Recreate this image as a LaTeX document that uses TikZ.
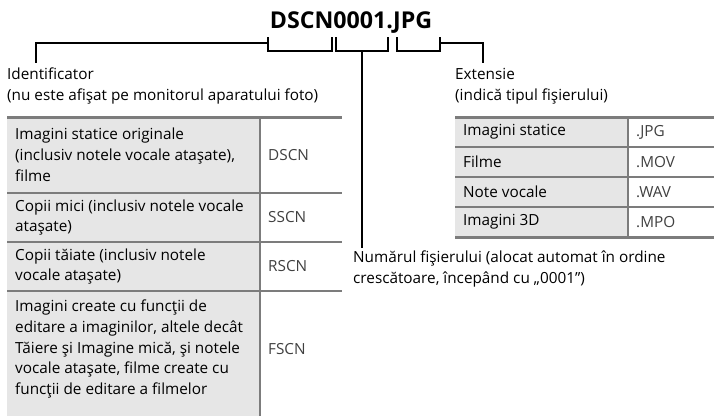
\documentclass[tikz,border=0pt]{standalone}
\usepackage{fontspec}
\setmainfont{Open Sans}
\definecolor{cellgray}{HTML}{E6E6E6}
\definecolor{rulegray}{HTML}{7C7C7C}
\begin{document}
\begin{tikzpicture}[x=1pt,y=-1pt,
  txt/.style={font=\fontsize{15.3}{20.8}\selectfont, inner sep=0pt, align=left},
  code/.style={txt, text=black!75},
  brk/.style={line width=2pt, line cap=rect},
  rule/.style={draw=rulegray, line width=2.4pt},
  toprule/.style={draw=rulegray, line width=3pt}]
\useasboundingbox (0,0) rectangle (714,416);

% title
\node[font=\fontsize{23.2}{26}\selectfont\bfseries, inner sep=0pt, anchor=base] (title) at (351,28) {DSCN0001.JPG};

% bracket coordinates
\coordinate (dA) at (268,38); \coordinate (dB) at (268,51); \coordinate (dC) at (332,51); \coordinate (dD) at (332,38);
\coordinate (nA) at (336,38); \coordinate (nB) at (336,51); \coordinate (nC) at (388,51); \coordinate (nD) at (388,38);
\coordinate (jA) at (397,38); \coordinate (jB) at (397,51); \coordinate (jC) at (440,51); \coordinate (jD) at (440,38);
\coordinate (dL) at (268,43); \coordinate (jR) at (440,43);
\coordinate (nM) at (362,51); \coordinate (nEnd) at (362,247);
\coordinate (idTop) at (36,43); \coordinate (idEnd) at (36,62);
\coordinate (exTop) at (483,43); \coordinate (exEnd) at (483,62);

\draw[brk] (dA) -- (dB) -- (dC) -- (dD);
\draw[brk] (nA) -- (nB) -- (nC) -- (nD);
\draw[brk] (jA) -- (jB) -- (jC) -- (jD);
\draw[brk] (idEnd) -- (idTop) -- (dL);
\draw[brk] (jR) -- (exTop) -- (exEnd);
\draw[brk] (nM) -- (nEnd);

% labels
\node[txt, anchor=base west] (id1) at (7,79) {Identificator};
\node[txt, anchor=base west] (id2) at (7,100) {(nu este afişat pe monitorul aparatului foto)};
\node[txt, anchor=base west] (ex1) at (455,79) {Extensie};
\node[txt, anchor=base west] (ex2) at (455,100) {(indică tipul fişierului)};
\node[txt, anchor=base west] (num1) at (353,262) {Numărul fişierului (alocat automat în ordine};
\node[txt, anchor=base west] (num2) at (353,283) {crescătoare, începând cu „0001”)};

% left table
\fill[cellgray] (7,117) rectangle (260,416);
\draw[toprule] (7,117) -- (342,117);
\draw[rule] (7,193) -- (342,193);
\draw[rule] (7,242) -- (342,242);
\draw[rule] (7,291) -- (342,291);
\draw[rule] (260,117) -- (260,416);

\node[txt, anchor=west] (l1) at (15,155) {Imagini statice originale\\(inclusiv notele vocale ataşate),\\filme};
\node[code, anchor=west] (c1) at (268,155) {DSCN};
\node[txt, anchor=west] (l2) at (15,217.5) {Copii mici (inclusiv notele vocale\\ataşate)};
\node[code, anchor=west] (c2) at (268,217.5) {SSCN};
\node[txt, anchor=west] (l3) at (15,266.5) {Copii tăiate (inclusiv notele\\vocale ataşate)};
\node[code, anchor=west] (c3) at (268,266.5) {RSCN};
\node[txt, anchor=west] (l4) at (15,349) {Imagini create cu funcţii de\\editare a imaginilor, altele decât\\Tăiere şi Imagine mică, şi notele\\vocale ataşate, filme create cu\\funcţii de editare a filmelor};
\node[code, anchor=west] (c4) at (268,349) {FSCN};

% right table
\fill[cellgray] (455,117) rectangle (628,237);
\draw[toprule] (455,117) -- (714,117);
\draw[rule] (455,147) -- (714,147);
\draw[rule] (455,177) -- (714,177);
\draw[rule] (455,207) -- (714,207);
\draw[toprule] (455,237) -- (714,237);
\draw[rule] (628,117) -- (628,237);

\node[txt, anchor=west] (r1) at (463,132) {Imagini statice};
\node[code, anchor=west] (e1) at (636,132) {.JPG};
\node[txt, anchor=west] (r2) at (463,162) {Filme};
\node[code, anchor=west] (e2) at (636,162) {.MOV};
\node[txt, anchor=west] (r3) at (463,192) {Note vocale};
\node[code, anchor=west] (e3) at (636,192) {.WAV};
\node[txt, anchor=west] (r4) at (463,222) {Imagini 3D};
\node[code, anchor=west] (e4) at (636,222) {.MPO};
\end{tikzpicture}
\end{document}
